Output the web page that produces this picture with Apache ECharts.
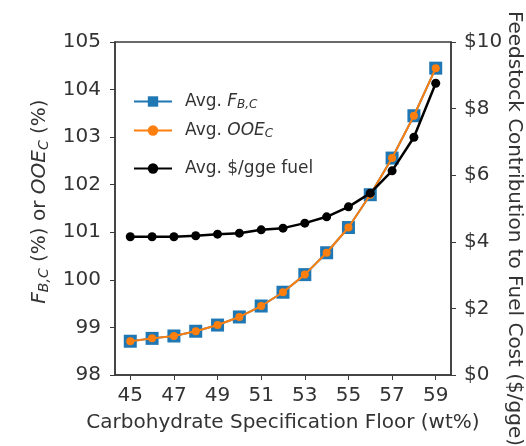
<!DOCTYPE html>
<html>
<head>
<meta charset="utf-8">
<script src="https://cdn.jsdelivr.net/npm/echarts@6/dist/echarts.min.js"></script>
<style>
  html, body { margin: 0; padding: 0; background: #fff; }
  #chart { width: 526px; height: 446px; }
</style>
</head>
<body>
<div id="chart"></div>
<script>
// carbohydrate spec floor (wt%)
const floors = [45, 46, 47, 48, 49, 50, 51, 52, 53, 54, 55, 56, 57, 58, 59]
const xTicks = [45, 47, 49, 51, 53, 55, 57, 59]
// left axis (%)
const avgFBC = [98.71, 98.77, 98.82, 98.92, 99.05, 99.22, 99.45, 99.74, 100.11, 100.57, 101.1, 101.79, 102.56, 103.45, 104.45]
const avgOOE = [98.71, 98.77, 98.82, 98.92, 99.05, 99.22, 99.45, 99.74, 100.11, 100.57, 101.1, 101.79, 102.56, 103.45, 104.45]
// right axis ($/gge)
const avgCost = [4.15, 4.15, 4.15, 4.18, 4.23, 4.26, 4.36, 4.41, 4.56, 4.75, 5.05, 5.46, 6.13, 7.14, 8.76]

const pairs = (ys) => floors.map((x, i) => [x, ys[i]])

const font = "DejaVu Sans"
const txt = "#333"
const axisCol = "#3a3a3a"

const chart = echarts.init(document.getElementById("chart"))

const legendBase = {
  orient: "vertical",
  left: 128,
  itemWidth: 38,
  itemHeight: 13,
  textStyle: {
    fontFamily: font,
    fontSize: 17,
    color: txt,
    padding: [0, 0, 0, 8],
    rich: {
      i: { fontFamily: font, fontSize: 17, fontStyle: "italic", color: txt },
      s: { fontFamily: font, fontSize: 12, fontStyle: "italic", color: txt, verticalAlign: "bottom", padding: [7, 0, 0, 0] }
    }
  }
}

chart.setOption({
  animation: false,
  grid: {
    left: 115, right: 75, top: 42, bottom: 71,
    outerBoundsMode: "none",
    containLabel: false,
    show: true, borderColor: axisCol, borderWidth: 1.5, backgroundColor: "transparent"
  },
  legend: [
    Object.assign({}, legendBase, {
      top: 88, data: ["fbc"],
      formatter: () => "Avg. {i|F}{s|B,C}"
    }),
    Object.assign({}, legendBase, {
      top: 117, data: ["ooe"],
      formatter: () => "Avg. {i|OOE}{s|C}"
    }),
    Object.assign({}, legendBase, {
      top: 155, data: ["cost"],
      formatter: () => "Avg. $/gge fuel"
    })
  ],
  xAxis: {
    type: "value",
    min: 44.3,
    max: 59.7,
    name: "Carbohydrate Specification Floor (wt%)",
    nameLocation: "middle",
    nameGap: 38,
    nameTextStyle: { fontFamily: font, fontSize: 20, color: txt },
    axisLine: { show: true, lineStyle: { color: axisCol, width: 1.5 } },
    axisTick: { show: true, inside: false, length: 5, customValues: xTicks, lineStyle: { color: axisCol } },
    axisLabel: { customValues: xTicks, margin: 11, fontFamily: font, fontSize: 20, color: txt },
    splitLine: { show: false }
  },
  yAxis: [
    {
      type: "value",
      min: 98,
      max: 105,
      interval: 1,
      name: "{i|F}{s|B,C} (%) or {i|OOE}{s|C} (%)",
      nameLocation: "middle",
      nameGap: 64,
      nameTextStyle: {
        fontFamily: font, fontSize: 20, color: txt,
        padding: [0, 0, 0, 14],
        rich: {
          i: { fontFamily: font, fontSize: 20, fontStyle: "italic", color: txt },
          s: { fontFamily: font, fontSize: 14, fontStyle: "italic", color: txt, verticalAlign: "bottom", padding: [8, 0, 0, 0] }
        }
      },
      axisLine: { show: true, lineStyle: { color: axisCol, width: 1.5 } },
      axisTick: { show: true, length: 5, lineStyle: { color: axisCol } },
      axisLabel: { margin: 14, fontFamily: font, fontSize: 20, color: txt },
      splitLine: { show: false }
    },
    {
      type: "value",
      position: "right",
      min: 0,
      max: 10,
      interval: 2,
      name: "Feedstock Contribution to Fuel Cost ($/gge)",
      nameLocation: "middle",
      nameRotate: -90,
      nameGap: 53,
      nameMoveOverlap: false,
      nameTextStyle: { fontFamily: font, fontSize: 20, color: txt, padding: [0, 0, 0, 40] },
      axisLine: { show: true, lineStyle: { color: axisCol, width: 1.5 } },
      axisTick: { show: true, length: 5, lineStyle: { color: axisCol } },
      axisLabel: { margin: 13, fontFamily: font, fontSize: 20, color: txt, formatter: v => "$" + v },
      splitLine: { show: false }
    }
  ],
  series: [
    {
      name: "fbc",
      type: "line",
      yAxisIndex: 0,
      data: pairs(avgFBC),
      symbol: "rect",
      symbolSize: 13,
      itemStyle: { color: "#1f77b4" },
      lineStyle: { color: "#1f77b4", width: 2 },
      z: 2
    },
    {
      name: "ooe",
      type: "line",
      yAxisIndex: 0,
      data: pairs(avgOOE),
      symbol: "circle",
      symbolSize: 8,
      itemStyle: { color: "#ff7f0e" },
      lineStyle: { color: "#ff7f0e", width: 2 },
      z: 3
    },
    {
      name: "cost",
      type: "line",
      yAxisIndex: 1,
      data: pairs(avgCost),
      symbol: "circle",
      symbolSize: 9,
      itemStyle: { color: "#000" },
      lineStyle: { color: "#000", width: 2.5 },
      z: 4
    }
  ]
})
</script>
</body>
</html>
